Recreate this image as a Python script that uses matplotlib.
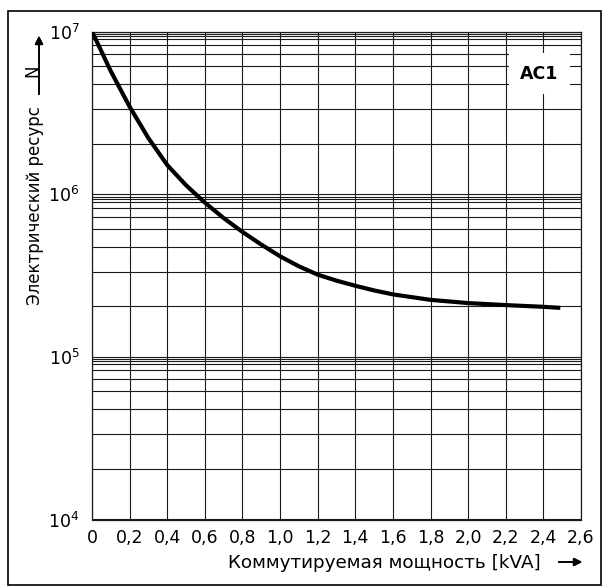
import numpy as np
import matplotlib
matplotlib.use("Agg")
import matplotlib.pyplot as plt
from matplotlib.patches import Rectangle
from matplotlib.ticker import FixedLocator, NullFormatter

plt.rcParams.update(
    {
        "font.family": ["DejaVu Sans"],
        "font.size": 12.5,
        "mathtext.fontset": "dejavusans",
    }
)

# curve (switched power in kVA -> electrical life N)
power_kva = [0.0, 0.1, 0.2, 0.3, 0.4, 0.5, 0.6, 0.7, 0.8, 0.9, 1.0,
             1.1, 1.2, 1.3, 1.4, 1.5, 1.6, 1.8, 2.0, 2.2, 2.4, 2.49]
cycles = [1.0e7, 5.7e6, 3.45e6, 2.21e6, 1.51e6, 1.135e6, 8.87e5, 7.13e5,
          5.86e5, 4.90e5, 4.15e5, 3.60e5, 3.20e5, 2.94e5, 2.735e5, 2.56e5,
          2.42e5, 2.24e5, 2.14e5, 2.08e5, 2.03e5, 2.0e5]

x_ticks = [0.0, 0.2, 0.4, 0.6, 0.8, 1.0, 1.2, 1.4, 1.6, 1.8, 2.0, 2.2, 2.4, 2.6]
x_tick_labels = ["0", "0,2", "0,4", "0,6", "0,8", "1,0", "1,2", "1,4", "1,6",
                 "1,8", "2,0", "2,2", "2,4", "2,6"]
decades = [1e4, 1e5, 1e6, 1e7]
decade_labels = [r"$\mathregular{10^{4}}$", r"$\mathregular{10^{5}}$",
                 r"$\mathregular{10^{6}}$", r"$\mathregular{10^{7}}$"]
# the printed grid does not follow exact log steps; these are the drawn lines
grid_multipliers = [2.04, 3.34, 4.76, 6.14, 7.28, 8.28, 8.99, 9.40, 9.66]
badge_text = "AC1"

W, H = 603, 586
fig = plt.figure(figsize=(W / 100, H / 100), dpi=100)
ax = fig.add_axes([92 / W, 1 - 519.5 / H, (581 - 92) / W, (519.5 - 31.5) / H])

ax.set_yscale("log")
ax.set_xlim(0, 2.6)
ax.set_ylim(1e4, 1e7)

ax.set_xticks(x_ticks)
ax.set_xticklabels(x_tick_labels)
ax.yaxis.set_major_locator(FixedLocator(decades))
ax.set_yticklabels(decade_labels)
minor_y = [m * d for d in decades[:-1] for m in grid_multipliers]
ax.yaxis.set_minor_locator(FixedLocator(minor_y))
ax.yaxis.set_minor_formatter(NullFormatter())
ax.tick_params(axis="both", which="both", length=0)
ax.tick_params(axis="x", pad=7, labelsize=12.5)
ax.tick_params(axis="y", pad=9, labelsize=12.5)

ax.grid(True, which="both", color="#1a1a1a", linewidth=0.8)
for s in ax.spines.values():
    s.set_color("#1a1a1a")
    s.set_linewidth(0.9)

ax.plot(power_kva, cycles, color="black", linewidth=3.0, solid_capstyle="butt",
        solid_joinstyle="round", zorder=5)

ax.text(2.378, 5.5e6, badge_text, fontsize=12.5, fontweight="bold",
        ha="center", va="center", zorder=6,
        bbox=dict(boxstyle="square,pad=0.65", facecolor="white",
                  edgecolor="none"))


# axis titles with arrows, placed in pixel coordinates of the figure
def fx(px):
    return px / W


def fy(py):
    return 1 - py / H


fig.text(fx(40), fy(305), "Электрический ресурс", rotation=90,
         rotation_mode="anchor", ha="left", va="baseline", fontsize=12)
fig.text(fx(37), fy(77), "N", rotation=90, rotation_mode="anchor",
         ha="left", va="baseline", fontsize=12)
fig.add_artist(plt.annotate("", xy=(fx(39), fy(33)), xytext=(fx(39), fy(97)),
               xycoords="figure fraction",
               arrowprops=dict(arrowstyle="-|>", color="black", lw=1.2,
                               mutation_scale=12)))

fig.text(fx(228), fy(568), "Коммутируемая мощность [kVA]", ha="left",
         va="baseline", fontsize=13.2)
fig.add_artist(plt.annotate("", xy=(fx(585), fy(562)), xytext=(fx(556), fy(562)),
               xycoords="figure fraction",
               arrowprops=dict(arrowstyle="-|>", color="black", lw=1.2,
                               mutation_scale=12)))

fig.add_artist(Rectangle((fx(8), fy(585)), (601 - 8) / W, (585 - 11) / H,
                         transform=fig.transFigure, fill=False,
                         edgecolor="black", linewidth=1.2))

fig.savefig("out.png", dpi=100)
